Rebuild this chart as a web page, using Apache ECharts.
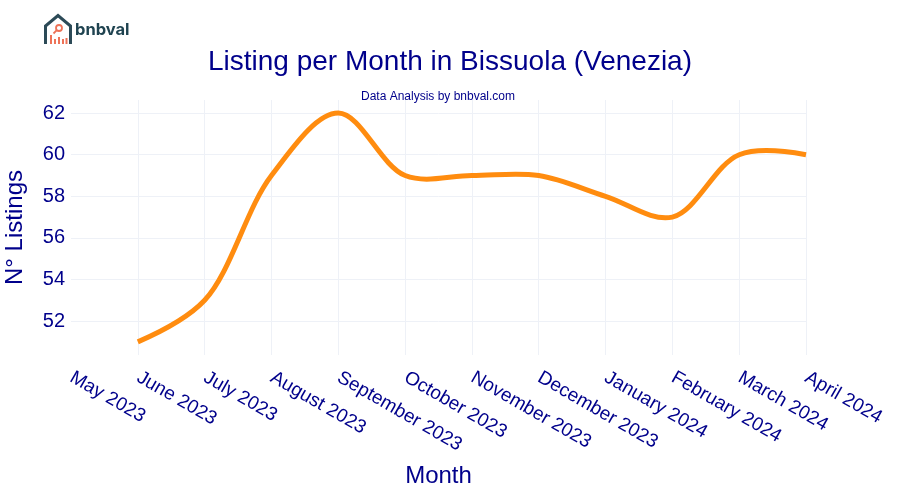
<!DOCTYPE html>
<html>
<head>
<meta charset="utf-8">
<script src="https://cdn.jsdelivr.net/npm/echarts@6/dist/echarts.min.js"></script>
<style>
html, body { margin: 0; padding: 0; background: #fff; }
#chart { width: 900px; height: 500px; }
</style>
</head>
<body>
<div id="chart"></div>
<script>
var months = ['May 2023', 'June 2023', 'July 2023', 'August 2023', 'September 2023', 'October 2023',
	'November 2023', 'December 2023', 'January 2024', 'February 2024', 'March 2024', 'April 2024'];
var listings = [null, 51, 53, 59, 62, 59, 59, 59, 58, 57, 60, 60];
var yTicks = [52, 54, 56, 58, 60, 62];

var navy = '#00008b';
var fontName = '"Liberation Sans", Arial, sans-serif';
var gridColor = '#eef1f7';
var logoDark = '#2c4a57';
var logoRed = '#ee7358';

// tangent handles for the catmull-rom style spline the original line uses
function tangents(a, b, c) {
	var d1x = a[0] - b[0], d1y = a[1] - b[1];
	var d2x = c[0] - b[0], d2y = c[1] - b[1];
	var d1a = Math.pow(d1x * d1x + d1y * d1y, 0.25);
	var d2a = Math.pow(d2x * d2x + d2y * d2y, 0.25);
	var numx = d2a * d2a * d1x - d1a * d1a * d2x;
	var numy = d2a * d2a * d1y - d1a * d1a * d2y;
	var den1 = 3 * d2a * (d1a + d2a);
	var den2 = 3 * d1a * (d1a + d2a);
	return [[b[0] + numx / den1, b[1] + numy / den1], [b[0] - numx / den2, b[1] - numy / den2]];
}

echarts.graphic.registerShape('splineLine', echarts.graphic.extendShape({
	shape: { points: [] },
	style: { fill: null },
	buildPath: function(ctx, shape) {
		var p = shape.points, t = [], i;
		for (i = 1; i < p.length - 1; i++) {
			t.push(tangents(p[i - 1], p[i], p[i + 1]));
		}
		ctx.moveTo(p[0][0], p[0][1]);
		ctx.quadraticCurveTo(t[0][0][0], t[0][0][1], p[1][0], p[1][1]);
		for (i = 2; i < p.length - 1; i++) {
			ctx.bezierCurveTo(t[i - 2][1][0], t[i - 2][1][1], t[i - 1][0][0], t[i - 1][0][1], p[i][0], p[i][1]);
		}
		var last = t[t.length - 1][1];
		ctx.quadraticCurveTo(last[0], last[1], p[p.length - 1][0], p[p.length - 1][1]);
	}
}));

var lineData = [];
listings.forEach(function(v, i) {
	if (v !== null) lineData.push([i, v]);
});

var my = echarts.init(document.getElementById('chart'), null, { renderer: 'canvas' });
my.setOption({
	animation: false,
	backgroundColor: '#fff',
	textStyle: { fontFamily: fontName },
	title: [{
		text: 'Listing per Month in Bissuola (Venezia)',
		left: 450,
		top: 48,
		padding: 0,
		textAlign: 'center',
		textStyle: { color: navy, fontSize: 28, fontWeight: 'normal', fontFamily: fontName }
	}, {
		text: 'Data Analysis by bnbval.com',
		left: 438,
		top: 91,
		padding: 0,
		textAlign: 'center',
		textStyle: { color: navy, fontSize: 12, fontWeight: 'normal', fontFamily: fontName }
	}],
	grid: { left: 71, right: 94, top: 100, bottom: 145, outerBoundsMode: 'none' },
	xAxis: [{
		type: 'category',
		boundaryGap: false,
		data: months,
		name: 'Month',
		nameLocation: 'middle',
		nameGap: 109,
		nameTextStyle: { color: navy, fontSize: 24, fontFamily: fontName },
		axisLine: { show: false },
		axisTick: { show: false },
		axisLabel: {
			color: navy,
			fontSize: 19,
			fontFamily: fontName,
			rotate: -30,
			margin: 10,
			padding: [0, 0, 0, 6],
			interval: 0,
			align: 'left',
			verticalAlign: 'top',
			showMinLabel: true,
			showMaxLabel: true,
			hideOverlap: false
		},
		splitLine: {
			show: true,
			interval: function(index) {
				return index > 0;
			},
			lineStyle: { color: gridColor, width: 1 }
		}
	}],
	yAxis: [{
		type: 'value',
		min: 50.37,
		max: 62.63,
		name: 'N° Listings',
		nameLocation: 'middle',
		nameGap: 44,
		nameTextStyle: { color: navy, fontSize: 24, fontFamily: fontName },
		axisLine: { show: false },
		axisTick: { show: false, customValues: yTicks },
		axisLabel: { color: navy, fontSize: 20, fontFamily: fontName, margin: 6, padding: [2, 0, 0, 0], customValues: yTicks },
		splitLine: { show: true, lineStyle: { color: gridColor, width: 1 } }
	}],
	series: [{
		type: 'custom',
		data: lineData,
		encode: { x: 0, y: 1 },
		clip: false,
		renderItem: function(params, api) {
			if (params.dataIndex !== 0) return null;
			var pts = lineData.map(function(d) {
				return api.coord(d);
			});
			return {
				type: 'splineLine',
				shape: { points: pts },
				style: { fill: null, stroke: '#ff8c0f', lineWidth: 5, lineJoin: 'round' }
			};
		}
	}],
	graphic: [{
		type: 'group',
		left: 43,
		top: 13,
		children: [{
			type: 'polyline',
			shape: { points: [[1.5, 30], [1.5, 12], [14, 1.5], [26.5, 12], [26.5, 30]] },
			style: { stroke: logoDark, lineWidth: 3, fill: null }
		}, {
			type: 'circle',
			shape: { cx: 15, cy: 14, r: 3 },
			style: { stroke: logoRed, lineWidth: 1.8, fill: null }
		}, {
			type: 'line',
			shape: { x1: 12.8, y1: 16.2, x2: 9.5, y2: 19.5 },
			style: { stroke: logoRed, lineWidth: 1.8 }
		}, {
			type: 'rect',
			shape: { x: 6, y: 21, width: 2, height: 9 },
			style: { fill: logoRed }
		}, {
			type: 'rect',
			shape: { x: 10, y: 25, width: 2, height: 5 },
			style: { fill: logoRed }
		}, {
			type: 'rect',
			shape: { x: 14, y: 23, width: 2, height: 7 },
			style: { fill: logoRed }
		}, {
			type: 'rect',
			shape: { x: 18, y: 25, width: 2, height: 5 },
			style: { fill: logoRed }
		}, {
			type: 'rect',
			shape: { x: 21.5, y: 24, width: 2, height: 6 },
			style: { fill: logoRed }
		}]
	}, {
		type: 'text',
		left: 75,
		top: 22,
		style: {
			text: 'bnbval',
			fill: '#1f4350',
			font: 'bold 16.5px Inter, sans-serif'
		}
	}]
});
</script>
</body>
</html>
